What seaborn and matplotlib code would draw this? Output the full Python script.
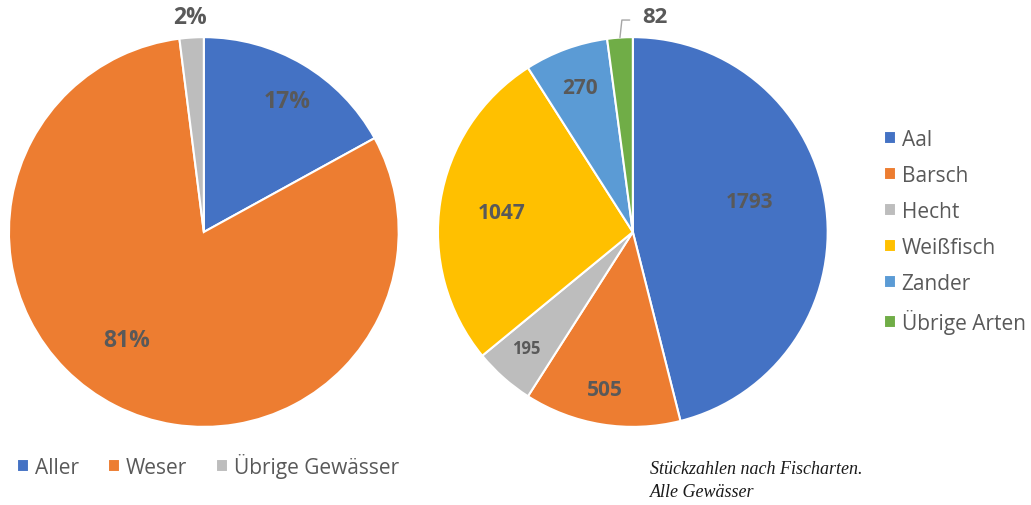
import numpy as np
import matplotlib
matplotlib.use("Agg")
import matplotlib.pyplot as plt
import seaborn as sns

# left pie: share per river
rivers = ["Aller", "Weser", "Übrige Gewässer"]
river_share = [17, 81, 2]

# right pie: counts per fish species, all waters
species = ["Aal", "Barsch", "Hecht", "Weißfisch", "Zander", "Übrige Arten"]
counts = [1793, 505, 195, 1047, 270, 82]

sns.set_theme(style="white")
plt.rcParams["font.family"] = ["Open Sans", "DejaVu Sans"]

left_colors = ["#4472C4", "#ED7D31", "#BDBDBD"]
right_colors = sns.color_palette(["#4472C4", "#ED7D31", "#BDBDBD", "#FFC000", "#5B9BD5", "#70AD47"])
label_col = "#595959"

fig = plt.figure(figsize=(10.31, 5.06), dpi=100)
ax1 = fig.add_axes([0.0087, 0.154, 0.378, 0.771])
ax2 = fig.add_axes([0.4248, 0.154, 0.378, 0.771])


def place_labels(ax, wedges, texts, dists, shifts, sizes):
    # put each label at a fraction of the radius, roughly in the wedge middle
    for w, t, d, sh, s in zip(wedges, texts, dists, shifts, sizes):
        ang = np.deg2rad((w.theta1 + w.theta2) / 2 + sh)
        t.set_position((d * np.cos(ang), d * np.sin(ang)))
        t.set_fontsize(s)
        t.set_fontweight("bold")
        t.set_color(label_col)


# left pie
w1, _ = ax1.pie(river_share, colors=left_colors, startangle=90, counterclock=False,
                wedgeprops=dict(edgecolor="white", linewidth=1.5))
t1 = [ax1.text(0, 0, f"{v}%", ha="center", va="center") for v in river_share]
place_labels(ax1, w1, t1, [0.795, 0.68, 1.105], [-1.8, -8.5, 0], [16.5, 16.5, 16.5])
ax1.set_xlim(-1, 1)
ax1.set_ylim(-1, 1)

# right pie
w2, _ = ax2.pie(counts, colors=right_colors, startangle=90, counterclock=False,
                wedgeprops=dict(edgecolor="white", linewidth=1.5))
t2 = [ax2.text(0, 0, str(v), ha="center", va="center") for v in counts]
place_labels(ax2, w2, t2, [0.62, 0.82, 0.81, 0.68, 0.79, 1.12],
             [7.7, -0.9, -0.9, 0.6, 0, 0], [15, 15, 12, 15, 15, 16])
ax2.set_xlim(-1, 1)
ax2.set_ylim(-1, 1)

# leader line for the small slice
last = w2[-1]
ang = np.deg2rad((last.theta1 + last.theta2) / 2)
x0, y0 = 1.0 * np.cos(ang), 1.0 * np.sin(ang)
ax2.plot([x0, x0 + 0.01, x0 + 0.05], [y0, y0 + 0.09, y0 + 0.09], color="#A6A6A6", lw=1,
         clip_on=False)
t2[-1].set_position((x0 + 0.18, y0 + 0.11))

# legends
fig.legend(w1, rivers, loc="center left", bbox_to_anchor=(0.006, 0.079), ncol=3,
           frameon=False, fontsize=15, handlelength=0.58, handleheight=0.58, borderpad=0,
           handletextpad=0.28, columnspacing=1.4, labelcolor=label_col)
fig.legend(w2, species, loc="center left", bbox_to_anchor=(0.847, 0.54), ncol=1,
           frameon=False, fontsize=15, handlelength=0.58, handleheight=0.58, borderpad=0,
           handletextpad=0.28, labelspacing=0.72, labelcolor=label_col)

fig.text(0.63, 0.05, "Stückzahlen nach Fischarten.\nAlle Gewässer", fontsize=13,
         style="italic", family=["Liberation Serif", "DejaVu Serif"], color="#1a1a1a",
         va="center", ha="left", linespacing=1.45)

fig.savefig("out.png", dpi=100)
